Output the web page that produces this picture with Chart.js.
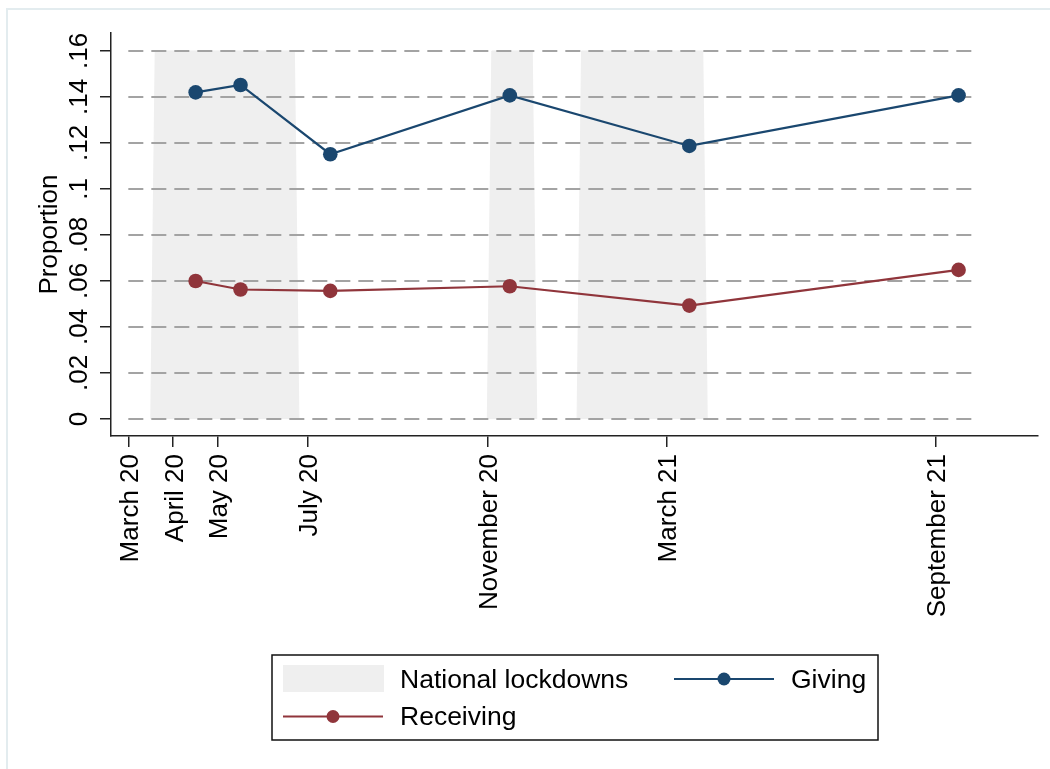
<!DOCTYPE html>
<html><head><meta charset="utf-8">
<script src="https://cdn.jsdelivr.net/npm/chart.js@4.4.1/dist/chart.umd.min.js"></script>
<style>html,body{margin:0;padding:0;background:#fff;} canvas{display:block;}</style>
</head><body>
<canvas id="c" width="1050" height="769"></canvas>
<script>
// ---- data (x in months since March 2020) ----
const xTickMonths = [0, 1, 2, 4, 8, 12, 18];
const xTickLabels = ["March 20", "April 20", "May 20", "July 20", "November 20", "March 21", "September 21"];
const yTickValues = [0, 0.02, 0.04, 0.06, 0.08, 0.10, 0.12, 0.14, 0.16];
const yTickLabels = ["0", ".02", ".04", ".06", ".08", ".1", ".12", ".14", ".16"];
const surveyMonths = [1.5, 2.5, 4.5, 8.5, 12.5, 18.5];
const giving = [0.1420, 0.1452, 0.1151, 0.1407, 0.1187, 0.1407];
const receiving = [0.0600, 0.0563, 0.0557, 0.0577, 0.0493, 0.0648];
const lockdownStart = [0.5, 8.0, 10.0];
const lockdownEnd = [3.8, 9.1, 12.9];
const lockdownLevel = 0.16;
const lockdownRamp = 0.1;
const seriesNames = ["Giving", "Receiving", "National lockdowns"];

// ---- styles ----
const FONT = '26px "Liberation Sans", Arial, sans-serif';
const LEG_FONT = '26.5px "Liberation Sans", Arial, sans-serif';
const GIVE_COL = '#1a476f';
const RECV_COL = '#90353b';
const SHADE_COL = '#efefef';
const AXIS_COL = '#222222';
const GRID_COL = '#a3a3a3';
const GRID_FROM = 0, GRID_TO = 18.87;

const pts = (xs, ys) => xs.map((x, i) => ({x: x, y: ys[i]}));
const shadeData = lockdownStart.map((s, i) => [
  {x: s, y: 0},
  {x: s + lockdownRamp, y: lockdownLevel},
  {x: lockdownEnd[i] - lockdownRamp, y: lockdownLevel},
  {x: lockdownEnd[i], y: 0}
]);

const datasets = [
  {label: seriesNames[0], data: pts(surveyMonths, giving), borderColor: GIVE_COL, backgroundColor: GIVE_COL,
   borderWidth: 2.2, pointRadius: 7.3, pointBorderWidth: 0, pointBackgroundColor: GIVE_COL, fill: false},
  {label: seriesNames[1], data: pts(surveyMonths, receiving), borderColor: RECV_COL, backgroundColor: RECV_COL,
   borderWidth: 2.2, pointRadius: 7.3, pointBorderWidth: 0, pointBackgroundColor: RECV_COL, fill: false}
];
shadeData.forEach((d, i) => datasets.push({
  label: seriesNames[2] + ' ' + (i + 1), data: d, borderColor: SHADE_COL, backgroundColor: SHADE_COL,
  borderWidth: 1, pointRadius: 0, fill: 'origin'
}));
const lastShadeIndex = 2;

function rotText(ctx, text, x, y, align) {
  ctx.save();
  ctx.translate(x, y);
  ctx.rotate(-Math.PI / 2);
  ctx.textAlign = align;
  ctx.textBaseline = 'alphabetic';
  ctx.fillText(text, 0, 0);
  ctx.restore();
}

const decor = {
  id: 'decor',
  beforeDraw(chart) {
    const ctx = chart.ctx;
    ctx.save();
    ctx.fillStyle = '#ffffff';
    ctx.fillRect(0, 0, chart.width, chart.height);
    ctx.strokeStyle = '#e3ecef';
    ctx.lineWidth = 2;
    ctx.strokeRect(7, 9, chart.width + 20, chart.height + 20);
    ctx.restore();
  },
  afterDatasetDraw(chart, args) {
    if (args.index !== lastShadeIndex) return;
    const ctx = chart.ctx, xs = chart.scales.x, ys = chart.scales.y;
    const x0 = xs.getPixelForValue(GRID_FROM), x1 = xs.getPixelForValue(GRID_TO);
    ctx.save();
    ctx.strokeStyle = GRID_COL;
    ctx.lineWidth = 2;
    ctx.setLineDash([15, 8]);
    yTickValues.forEach(v => {
      const y = Math.round(ys.getPixelForValue(v));
      ctx.beginPath();
      ctx.moveTo(x0, y);
      ctx.lineTo(x1, y);
      ctx.stroke();
    });
    ctx.restore();
  },
  afterDraw(chart) {
    const ctx = chart.ctx, xs = chart.scales.x, ys = chart.scales.y;
    ctx.save();
    ctx.fillStyle = '#000000';
    ctx.font = FONT;
    // y tick labels
    yTickValues.forEach((v, i) => rotText(ctx, yTickLabels[i], 87, ys.getPixelForValue(v), 'center'));
    // x tick labels
    xTickMonths.forEach((m, i) => rotText(ctx, xTickLabels[i], xs.getPixelForValue(m) + 9.3, 454, 'right'));
    // y title
    rotText(ctx, 'Proportion', 56.5, (chart.chartArea.top + chart.chartArea.bottom) / 2, 'center');

    // legend
    ctx.strokeStyle = '#111111';
    ctx.lineWidth = 1.5;
    ctx.strokeRect(272, 655, 606, 85);
    ctx.fillStyle = SHADE_COL;
    ctx.fillRect(283, 665, 101, 27);
    const legLine = (x0, x1, y, col) => {
      ctx.strokeStyle = col; ctx.lineWidth = 2;
      ctx.beginPath(); ctx.moveTo(x0, y); ctx.lineTo(x1, y); ctx.stroke();
      ctx.fillStyle = col;
      ctx.beginPath(); ctx.arc((x0 + x1) / 2, y, 6.5, 0, Math.PI * 2); ctx.fill();
    };
    legLine(674, 774, 679, GIVE_COL);
    legLine(283, 383, 716.5, RECV_COL);
    ctx.fillStyle = '#000000';
    ctx.font = LEG_FONT;
    ctx.textAlign = 'left';
    ctx.textBaseline = 'alphabetic';
    ctx.fillText(seriesNames[2], 400, 687.5);
    ctx.fillText(seriesNames[0], 791, 687.5);
    ctx.fillText(seriesNames[1], 400, 724.5);
    ctx.restore();
  }
};

new Chart(document.getElementById('c'), {
  type: 'line',
  data: {datasets: datasets},
  options: {
    responsive: false,
    animation: false,
    devicePixelRatio: 1,
    layout: {padding: {left: 100, top: 33, right: 12, bottom: 322}},
    plugins: {legend: {display: false}, tooltip: {enabled: false}},
    scales: {
      x: {
        type: 'linear', min: -0.386, max: 20.27,
        afterBuildTicks: s => { s.ticks = xTickMonths.map(v => ({value: v})); },
        ticks: {display: false},
        grid: {drawOnChartArea: false, drawTicks: true, tickLength: 11, color: AXIS_COL, lineWidth: 1.5},
        border: {display: true, color: AXIS_COL, width: 1.5}
      },
      y: {
        type: 'linear', min: -0.0074, max: 0.1678,
        afterBuildTicks: s => { s.ticks = yTickValues.map(v => ({value: v})); },
        ticks: {display: false},
        grid: {drawOnChartArea: false, drawTicks: true, tickLength: 11, color: AXIS_COL, lineWidth: 1.5},
        border: {display: true, color: AXIS_COL, width: 1.5}
      }
    }
  },
  plugins: [decor]
});
</script>
</body></html>
